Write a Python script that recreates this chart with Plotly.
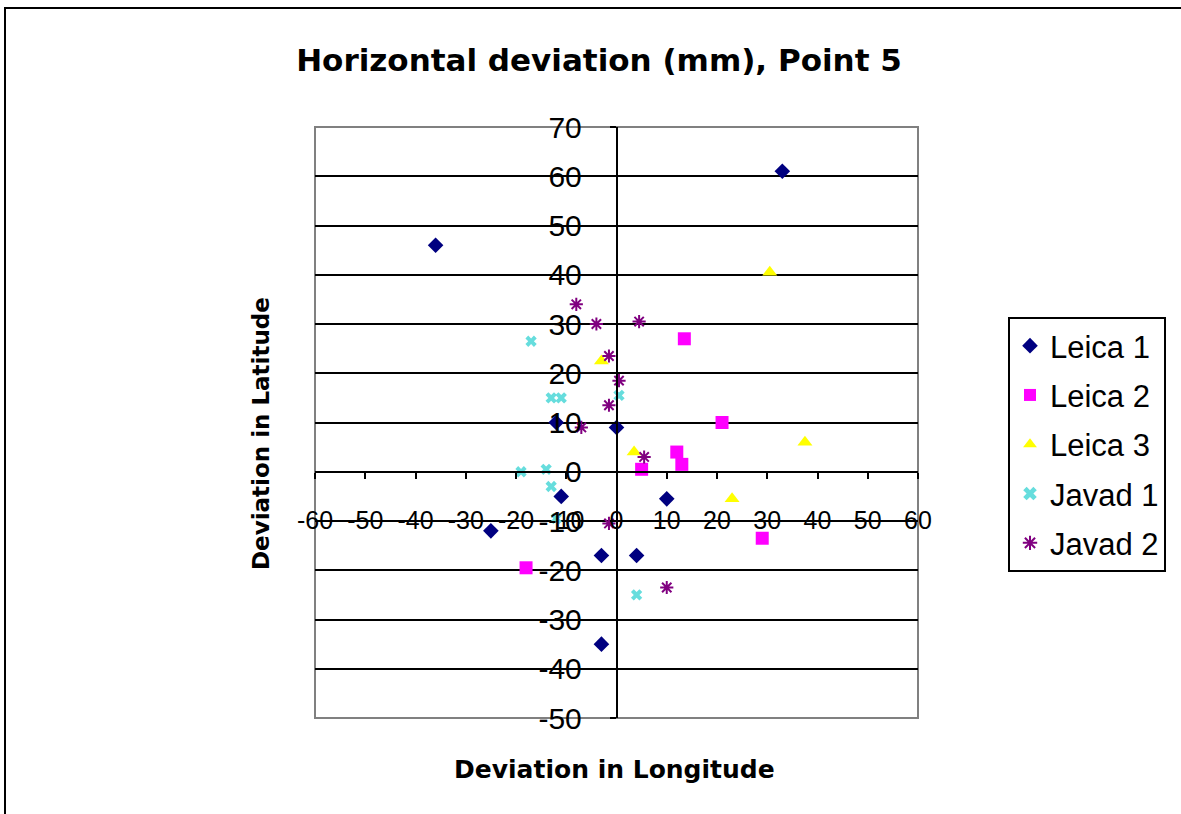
import plotly.graph_objects as go

# ---- data (mm) ----
leica1_x = [33, -36, -12, 0, -11, 10, -25, -3, 4, -3]
leica1_y = [61, 46, 10, 9, -5, -5.5, -12, -17, -17, -35]

leica2_x = [13.5, 21, 12, 13, 5, 29, -18]
leica2_y = [27, 10, 4, 1.5, 0.5, -13.5, -19.5]

leica3_x = [30.5, 37.5, 3.5, 23, -3]
leica3_y = [40.5, 6, 4, -5.5, 22.5]

javad1_x = [-17, -13, -11, 0.5, -19, -14, -13, -12, 4]
javad1_y = [26.5, 15, 15, 15.5, 0, 0.5, -3, -9.5, -25]

javad2_x = [-8, -4, 4.5, -1.5, 0.5, -1.5, -7, 5.5, -1.5, 10]
javad2_y = [34, 30, 30.5, 23.5, 18.5, 13.5, 9, 3, -10.5, -23.5]

x_ticks = [-60, -50, -40, -30, -20, -10, 0, 10, 20, 30, 40, 50, 60]
y_ticks = [-50, -40, -30, -20, -10, 0, 10, 20, 30, 40, 50, 60, 70]

series = [
    ("Leica 1", leica1_x, leica1_y, "diamond", "#000080", 12, 0),
    ("Leica 2", leica2_x, leica2_y, "square", "#FF00FF", 13, 0),
    ("Leica 3", leica3_x, leica3_y, "triangle-up", "#FFFF00", 13, 0),
    ("Javad 1", javad1_x, javad1_y, "x", "#66DDDD", 10, 0),
    ("Javad 2", javad2_x, javad2_y, "asterisk-open", "#800080", 11, 2),
]

fig = go.Figure()
for i, (name, xs, ys, sym, col, size, lw) in enumerate(series):
    marker = dict(symbol=sym, color=col, size=size)
    if lw:
        marker["line"] = dict(color=col, width=lw)
    else:
        marker["line"] = dict(width=0)
    fig.add_trace(go.Scatter(x=xs, y=ys, mode="markers", name=name,
                             marker=marker, legendgroup=f"g{i}"))

W, H = 1181, 814
L, R, T, B = 315, 918, 127, 718

def px_x(p):
    return (p - L) / (R - L)

def px_y(p):
    return (B - p) / (B - T)

fig.update_layout(
    width=W, height=H,
    margin=dict(l=L, r=W - R, t=T, b=H - B, autoexpand=False),
    paper_bgcolor="white", plot_bgcolor="white",
    font=dict(family="Liberation Sans, Arial, sans-serif", color="black"),
    title=dict(text="<b>Horizontal deviation (mm), Point 5</b>",
               font=dict(family="DejaVu Sans, sans-serif", size=31, color="black"),
               x=px_x(599), xanchor="center", xref="paper",
               y=1 - 60 / H, yanchor="middle", yref="container"),
    xaxis=dict(range=[-60, 60], tickvals=x_ticks, ticktext=[str(v) for v in x_ticks],
               anchor="free", position=50 / 120, showgrid=False, zeroline=False,
               showline=True, linecolor="black", linewidth=1.5,
               ticks="outside", ticklen=6, tickwidth=1.5, tickcolor="black",
               ticklabelstandoff=20, tickfont=dict(size=25), automargin=False),
    yaxis=dict(range=[-50, 70], tickvals=y_ticks, ticktext=[str(v) for v in y_ticks],
               anchor="free", position=0.5, showgrid=True, gridcolor="black", gridwidth=1.5,
               zeroline=False, showline=True, linecolor="black", linewidth=1.5,
               ticks="outside", ticklen=6, tickwidth=1.5, tickcolor="black",
               ticklabelstandoff=22, tickfont=dict(size=30), automargin=False),
    legend=dict(x=px_x(1008), y=px_y(317), xanchor="left", yanchor="top",
                bordercolor="black", borderwidth=2, bgcolor="white",
                font=dict(size=31), traceorder="grouped", tracegroupgap=6,
                itemsizing="constant"),
    showlegend=True,
)

# plot area frame
fig.add_shape(type="rect", xref="x domain", yref="y domain", x0=0, x1=1, y0=0, y1=1,
              line=dict(color="#808080", width=2), layer="below")
# outer chart border
fig.add_shape(type="rect", xref="paper", yref="paper",
              x0=px_x(5), x1=px_x(1190), y0=px_y(830), y1=px_y(8),
              line=dict(color="black", width=2))

fig.add_annotation(text="<b>Deviation in Longitude</b>", xref="paper", yref="paper",
                   x=px_x(614), y=px_y(769), xanchor="center", yanchor="middle",
                   showarrow=False,
                   font=dict(family="DejaVu Sans, sans-serif", size=25, color="black"))
fig.add_annotation(text="<b>Deviation in Latitude</b>", xref="paper", yref="paper",
                   x=px_x(261), y=px_y(434), xanchor="center", yanchor="middle",
                   showarrow=False, textangle=-90,
                   font=dict(family="DejaVu Sans, sans-serif", size=23, color="black"))

fig.write_html("out.html")
